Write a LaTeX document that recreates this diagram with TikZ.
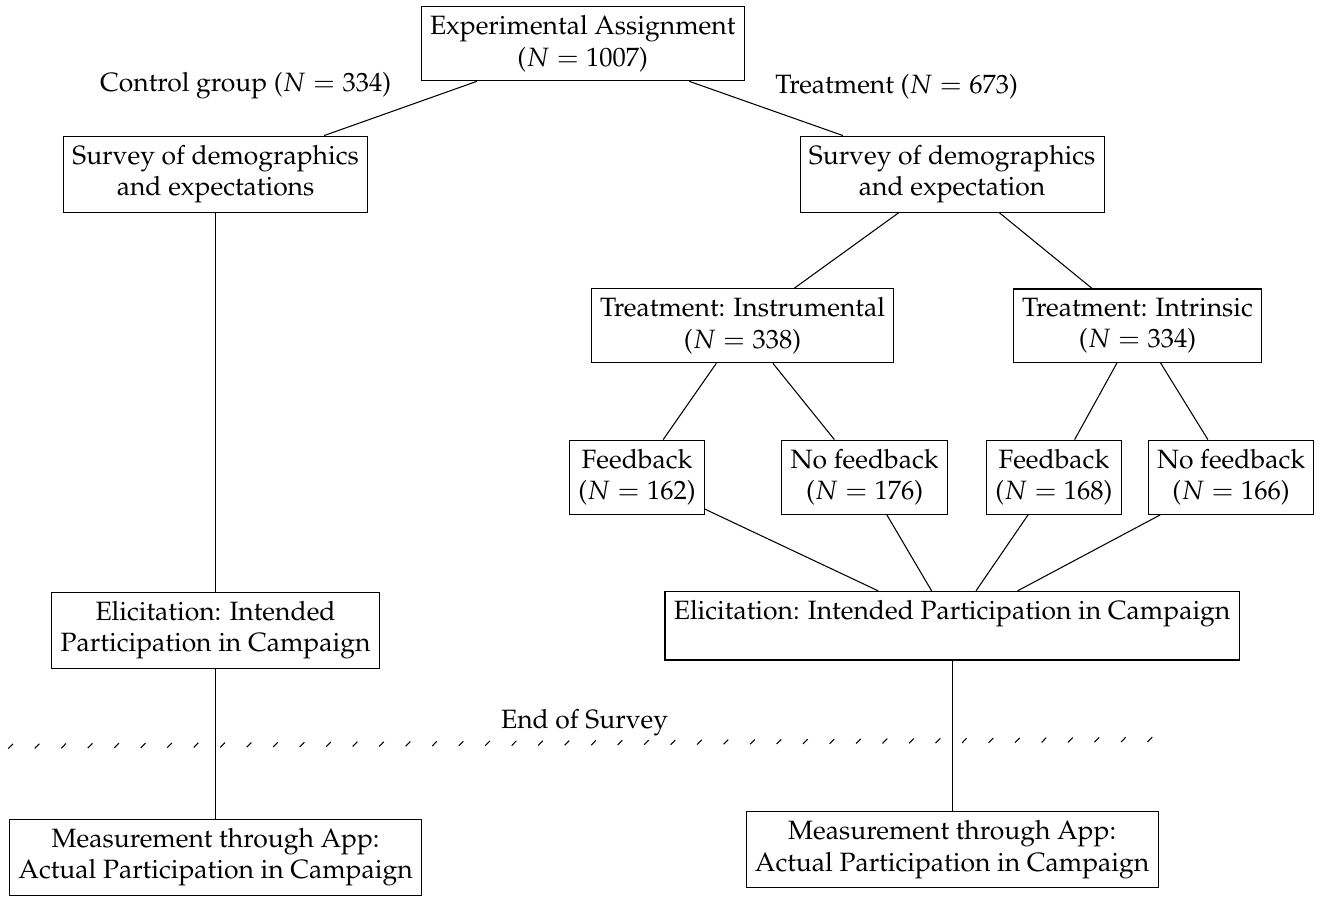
\documentclass[tikz,border=0pt]{standalone}
\usepackage{amssymb}
\usepackage{amsmath}
\usepackage[T1]{fontenc}
\usepackage{mathpazo}
\usepackage{tikz}
\usetikzlibrary{decorations.pathreplacing}

\begin{document}
\begin{tikzpicture}
\tikzset{box/.style = {shape=rectangle,draw,align=center}}
\tikzset{link/.style = {-}}
\tikzset{cutline/.style = {decorate,decoration={border,segment length=10pt,amplitude=2.5pt,angle=45}}}
\useasboundingbox (0,0) rectangle (17.51,-11.90);
\node[box] (assign) at (7.73,-0.58) {Experimental Assignment\\($N=1007$)};
\node[box] (survL) at (2.86,-2.31) {Survey of demographics\\and expectations};
\node[box] (survR) at (12.63,-2.31) {Survey of demographics\\and expectation};
\node[box] (instr) at (9.85,-4.32) {Treatment: Instrumental\\($N=338$)};
\node[box] (intr) at (15.09,-4.32) {Treatment: Intrinsic\\($N=334$)};
\node[box] (fbI) at (8.45,-6.33) {Feedback\\($N=162$)};
\node[box] (nofbI) at (11.47,-6.33) {No feedback\\($N=176$)};
\node[box] (fbE) at (13.98,-6.33) {Feedback\\($N=168$)};
\node[box] (nofbE) at (16.33,-6.33) {No feedback\\($N=166$)};
\node[box] (elicL) at (2.86,-8.36) {Elicitation: Intended\\Participation in Campaign};
\node[box] (elicR) at (12.63,-8.30) {Elicitation: Intended Participation in Campaign\\\mbox{}};
\node[box] (measL) at (2.86,-11.37) {Measurement through App:\\Actual Participation in Campaign};
\node[box] (measR) at (12.63,-11.27) {Measurement through App:\\Actual Participation in Campaign};
\coordinate (endL) at (0.11,-9.93);
\coordinate (endR) at (15.40,-9.84);
\draw[link] (assign) to node[above left] {Control group ($N=334$)} (survL);
\draw[link] (assign) to node[above right] {Treatment ($N=673$)} (survR);
\draw[link] (survR) to (instr);
\draw[link] (survR) to (intr);
\draw[link] (instr) to (fbI);
\draw[link] (instr) to (nofbI);
\draw[link] (intr) to (fbE);
\draw[link] (intr) to (nofbE);
\draw[link] (fbI) to (elicR);
\draw[link] (nofbI) to (elicR);
\draw[link] (fbE) to (elicR);
\draw[link] (nofbE) to (elicR);
\draw[link] (survL) to (elicL);
\draw[link] (elicL) to (measL);
\draw[link] (elicR) to (measR);
\draw[cutline] (endL) -- node[above] {End of Survey} (endR);
\end{tikzpicture}
\end{document}
